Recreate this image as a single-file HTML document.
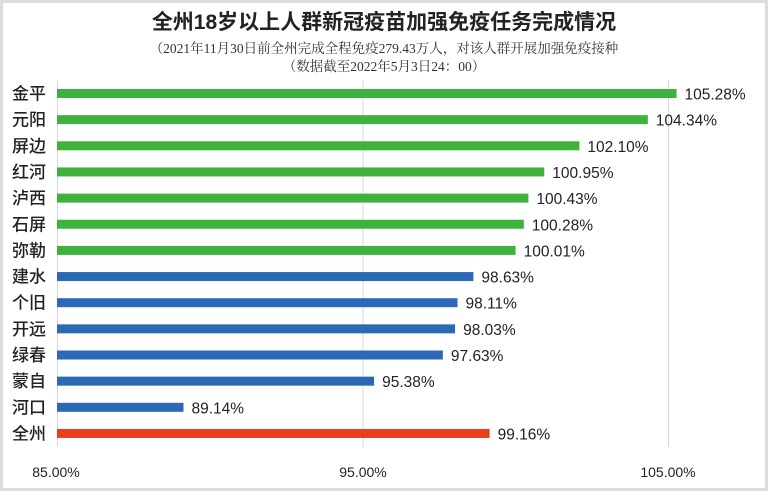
<!DOCTYPE html>
<html><head><meta charset="utf-8"><style>
body{margin:0;background:#fff;}
svg text{font-family:"Liberation Sans","Noto Sans CJK SC",sans-serif;}
.s{font-family:"Liberation Serif","Noto Serif CJK SC",serif !important;}
.n{font-size:17px;font-weight:500;fill:#222;}
.v{font-size:15.5px;fill:#222;}
</style></head><body>
<svg width="768" height="491" xmlns="http://www.w3.org/2000/svg">
<rect x="1.5" y="1.5" width="765" height="488" fill="#fff" stroke="#dcdcdc" stroke-width="3"/>
<text x="384" y="29" text-anchor="middle" font-size="21" font-weight="600" fill="#222">全州18岁以上人群新冠疫苗加强免疫任务完成情况</text>
<text class="s" x="384" y="53" text-anchor="middle" font-size="13.5" fill="#333">（2021年11月30日前全州完成全程免疫279.43万人，对该人群开展加强免疫接种</text>
<text class="s" x="384" y="71" text-anchor="middle" font-size="13.5" fill="#333">（数据截至2022年5月3日24：00）</text>
<g stroke="#d8d8d8" stroke-width="1">
<line x1="57.5" y1="80" x2="57.5" y2="447"/>
<line x1="363" y1="80" x2="363" y2="447"/>
<line x1="668.5" y1="80" x2="668.5" y2="447"/>
</g>
<g font-size="14" fill="#222">
<text x="56" y="477" text-anchor="middle">85.00%</text>
<text x="363" y="477" text-anchor="middle">95.00%</text>
<text x="668" y="477" text-anchor="middle">105.00%</text>
</g>
<g fill="#3db23c">
<rect x="57" y="89" width="619.55" height="9"/>
<rect x="57" y="115.15" width="590.84" height="9"/>
<rect x="57" y="141.3" width="522.4" height="9"/>
<rect x="57" y="167.45" width="487.27" height="9"/>
<rect x="57" y="193.6" width="471.39" height="9"/>
<rect x="57" y="219.75" width="466.8" height="9"/>
<rect x="57" y="245.9" width="458.56" height="9"/>
</g>
<g fill="#2b68b6">
<rect x="57" y="272.05" width="416.4" height="9"/>
<rect x="57" y="298.2" width="400.5" height="9"/>
<rect x="57" y="324.35" width="398.07" height="9"/>
<rect x="57" y="350.5" width="385.85" height="9"/>
<rect x="57" y="376.65" width="317.1" height="9"/>
<rect x="57" y="402.8" width="126.48" height="9"/>
</g>
<rect x="57" y="428.95" width="432.59" height="9" fill="#e8401f"/>
<text class="n" x="12" y="99.5">金平</text>
<text class="n" x="12" y="125.65">元阳</text>
<text class="n" x="12" y="151.8">屏边</text>
<text class="n" x="12" y="177.95">红河</text>
<text class="n" x="12" y="204.1">泸西</text>
<text class="n" x="12" y="230.25">石屏</text>
<text class="n" x="12" y="256.4">弥勒</text>
<text class="n" x="12" y="282.55">建水</text>
<text class="n" x="12" y="308.7">个旧</text>
<text class="n" x="12" y="334.85">开远</text>
<text class="n" x="12" y="361">绿春</text>
<text class="n" x="12" y="387.15">蒙自</text>
<text class="n" x="12" y="413.3">河口</text>
<text class="n" x="12" y="439.45">全州</text>
<text class="v" x="684.5" y="99.5">105.28%</text>
<text class="v" x="655.8" y="125.65">104.34%</text>
<text class="v" x="587.4" y="151.8">102.10%</text>
<text class="v" x="552.3" y="177.95">100.95%</text>
<text class="v" x="536.4" y="204.1">100.43%</text>
<text class="v" x="531.8" y="230.25">100.28%</text>
<text class="v" x="523.6" y="256.4">100.01%</text>
<text class="v" x="481.4" y="282.55">98.63%</text>
<text class="v" x="465.5" y="308.7">98.11%</text>
<text class="v" x="463.1" y="334.85">98.03%</text>
<text class="v" x="450.9" y="361">97.63%</text>
<text class="v" x="382.1" y="387.15">95.38%</text>
<text class="v" x="191.5" y="413.3">89.14%</text>
<text class="v" x="497.6" y="439.45">99.16%</text>
</svg>
</body></html>
